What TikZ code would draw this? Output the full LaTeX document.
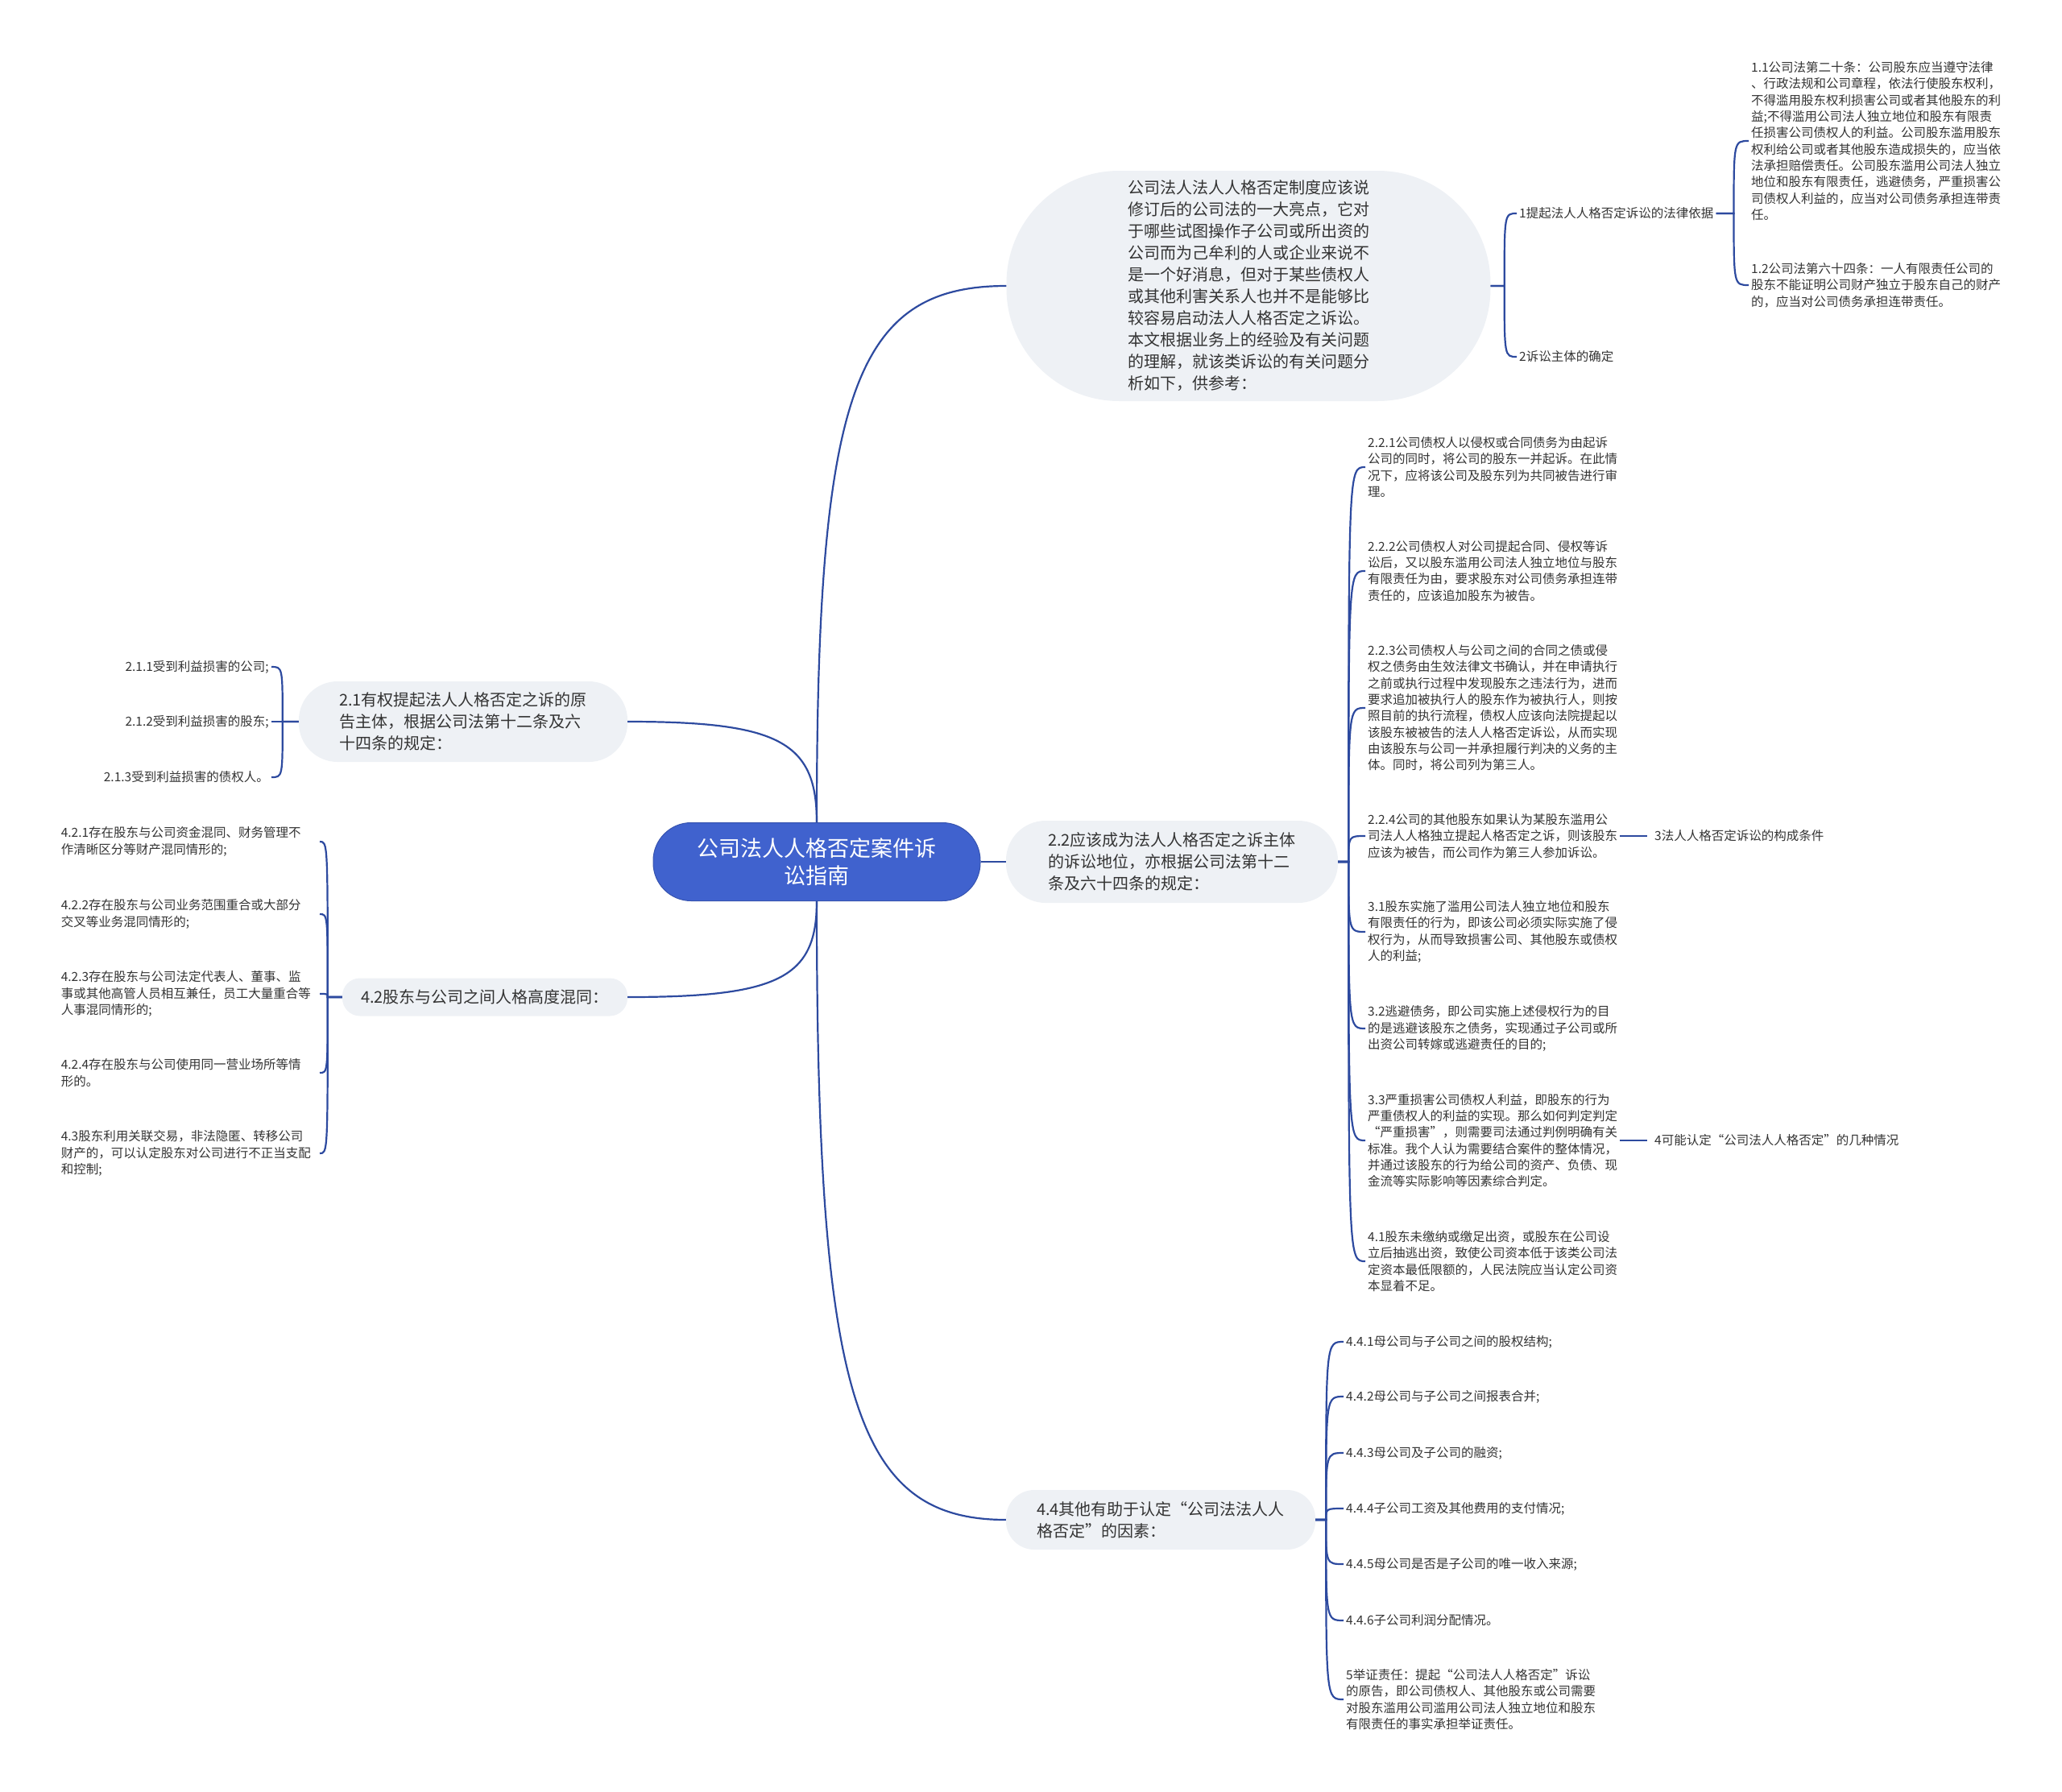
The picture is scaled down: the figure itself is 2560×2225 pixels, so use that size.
\documentclass[tikz,border=0pt]{standalone}
\usepackage{fontspec}
\setmainfont{Noto Sans CJK SC}
\usetikzlibrary{calc}

\definecolor{rootblue}{HTML}{4062CE}
\definecolor{topicgray}{HTML}{EEF1F5}
\definecolor{linkblue}{HTML}{2D4A9F}
\definecolor{textgray}{HTML}{333333}

\tikzset{
	rootnode/.style={fill=rootblue, draw=rootblue!85!black, line width=1pt, text=white, align=center,
		inner sep=0pt, font=\fontsize{27}{34}\selectfont},
	topic/.style={fill=topicgray, text=textgray, align=left, inner sep=0pt,
		font=\fontsize{20}{27}\selectfont},
	leaf/.style={text=textgray, align=left, inner sep=3pt,
		font=\fontsize{15.5}{20.3}\selectfont},
	link/.style={draw=linkblue, line width=2.2pt},
	branch/.style={to path={.. controls ($(\tikztostart)!0.8!(\tikztostart |- \tikztotarget)$)
			and ($(\tikztotarget)!0.8!(\tikztostart |- \tikztotarget)$) .. (\tikztotarget)}},
	bracelink/.style={to path={-- ($(\tikztostart)+(#1,0)$)
			.. controls ($(\tikztostart |- \tikztotarget)+(#1,0)$) .. (\tikztotarget)}},
}

\begin{document}
\begin{tikzpicture}[x=1pt, y=-1pt]
	\useasboundingbox (0,0) rectangle (2560,2225);
	
	\node[rootnode, minimum width=406, minimum height=97, rounded corners=47] (root) at (1014,1070)
		{公司法人人格否定案件诉\\讼指南};
	
	\node[topic, minimum width=601, minimum height=286, rounded corners=140] (intro) at (1550,355)
		{公司法人法人人格否定制度应该说\\修订后的公司法的一大亮点，它对\\于哪些试图操作子公司或所出资的\\公司而为己牟利的人或企业来说不\\是一个好消息，但对于某些债权人\\或其他利害关系人也并不是能够比\\较容易启动法人人格否定之诉讼。\\本文根据业务上的经验及有关问题\\的理解，就该类诉讼的有关问题分\\析如下，供参考：};
	\node[topic, minimum width=408, minimum height=100, rounded corners=48] (n21) at (575,896)
		{2.1有权提起法人人格否定之诉的原\\告主体，根据公司法第十二条及六\\十四条的规定：};
	\node[topic, minimum width=412, minimum height=102, rounded corners=49] (n22) at (1455,1070)
		{2.2应该成为法人人格否定之诉主体\\的诉讼地位，亦根据公司法第十二\\条及六十四条的规定：};
	\node[topic, minimum width=354, minimum height=47, rounded corners=22] (n42) at (602,1238)
		{4.2股东与公司之间人格高度混同：};
	\node[topic, minimum width=384, minimum height=74, rounded corners=35] (n44) at (1441,1887)
		{4.4其他有助于认定“公司法法人人\\格否定”的因素：};
	
	\draw[link] (root.north) to[branch] (intro.west);
	\draw[link] (root.north) to[branch] (n21.east);
	\draw[link] (root.east) -- (n22.west);
	\draw[link] (root.south) to[branch] (n42.east);
	\draw[link] (root.south) to[branch] (n44.west);
	
	\node[leaf, anchor=west] (c1) at (1883,265) {1提起法人人格否定诉讼的法律依据};
	\node[leaf, anchor=west] (c2) at (1883,443) {2诉讼主体的确定};
	\node[leaf, anchor=west] (c11) at (2171,175)
		{1.1公司法第二十条：公司股东应当遵守法律\\、行政法规和公司章程，依法行使股东权利，\\不得滥用股东权利损害公司或者其他股东的利\\益;不得滥用公司法人独立地位和股东有限责\\任损害公司债权人的利益。公司股东滥用股东\\权利给公司或者其他股东造成损失的，应当依\\法承担赔偿责任。公司股东滥用公司法人独立\\地位和股东有限责任，逃避债务，严重损害公\\司债权人利益的，应当对公司债务承担连带责\\任。};
	\node[leaf, anchor=west] (c12) at (2171,354)
		{1.2公司法第六十四条：一人有限责任公司的\\股东不能证明公司财产独立于股东自己的财产\\的，应当对公司债务承担连带责任。};
	\draw[link] (intro.east) to[bracelink=17] (c1.west);
	\draw[link] (intro.east) to[bracelink=17] (c2.west);
	\draw[link] (c1.east) to[bracelink=22] (c11.west);
	\draw[link] (c1.east) to[bracelink=22] (c12.west);
	
	\node[leaf, anchor=east, align=right] (l211) at (337,828) {2.1.1受到利益损害的公司;};
	\node[leaf, anchor=east, align=right] (l212) at (337,896) {2.1.2受到利益损害的股东;};
	\node[leaf, anchor=east, align=right] (l213) at (337,965) {2.1.3受到利益损害的债权人。};
	\draw[link] (n21.west) to[bracelink=-20] (l211.east);
	\draw[link] (n21.west) to[bracelink=-20] (l212.east);
	\draw[link] (n21.west) to[bracelink=-20] (l213.east);
	
	\node[leaf, anchor=west] (l221) at (1695,580)
		{2.2.1公司债权人以侵权或合同债务为由起诉\\公司的同时，将公司的股东一并起诉。在此情\\况下，应将该公司及股东列为共同被告进行审\\理。};
	\node[leaf, anchor=west] (l222) at (1695,709)
		{2.2.2公司债权人对公司提起合同、侵权等诉\\讼后，又以股东滥用公司法人独立地位与股东\\有限责任为由，要求股东对公司债务承担连带\\责任的，应该追加股东为被告。};
	\node[leaf, anchor=west] (l223) at (1695,879)
		{2.2.3公司债权人与公司之间的合同之债或侵\\权之债务由生效法律文书确认，并在申请执行\\之前或执行过程中发现股东之违法行为，进而\\要求追加被执行人的股东作为被执行人，则按\\照目前的执行流程，债权人应该向法院提起以\\该股东被被告的法人人格否定诉讼，从而实现\\由该股东与公司一并承担履行判决的义务的主\\体。同时，将公司列为第三人。};
	\node[leaf, anchor=west] (l224) at (1695,1038)
		{2.2.4公司的其他股东如果认为某股东滥用公\\司法人人格独立提起人格否定之诉，则该股东\\应该为被告，而公司作为第三人参加诉讼。};
	\node[leaf, anchor=west] (l31) at (1695,1157)
		{3.1股东实施了滥用公司法人独立地位和股东\\有限责任的行为，即该公司必须实际实施了侵\\权行为，从而导致损害公司、其他股东或债权\\人的利益;};
	\node[leaf, anchor=west] (l32) at (1695,1277)
		{3.2逃避债务，即公司实施上述侵权行为的目\\的是逃避该股东之债务，实现通过子公司或所\\出资公司转嫁或逃避责任的目的;};
	\node[leaf, anchor=west] (l33) at (1695,1416)
		{3.3严重损害公司债权人利益，即股东的行为\\严重债权人的利益的实现。那么如何判定判定\\“严重损害”，则需要司法通过判例明确有关\\标准。我个人认为需要结合案件的整体情况，\\并通过该股东的行为给公司的资产、负债、现\\金流等实际影响等因素综合判定。};
	\node[leaf, anchor=west] (l41) at (1695,1566)
		{4.1股东未缴纳或缴足出资，或股东在公司设\\立后抽逃出资，致使公司资本低于该类公司法\\定资本最低限额的，人民法院应当认定公司资\\本显着不足。};
	\draw[link] (n22.east) to[bracelink=13] (l221.west);
	\draw[link] (n22.east) to[bracelink=13] (l222.west);
	\draw[link] (n22.east) to[bracelink=13] (l223.west);
	\draw[link] (n22.east) to[bracelink=13] (l224.west);
	\draw[link] (n22.east) to[bracelink=13] (l31.west);
	\draw[link] (n22.east) to[bracelink=13] (l32.west);
	\draw[link] (n22.east) to[bracelink=13] (l33.west);
	\draw[link] (n22.east) to[bracelink=13] (l41.west);
	
	\node[leaf, anchor=west] (c3) at (2051,1038) {3法人人格否定诉讼的构成条件};
	\node[leaf, anchor=west] (c4) at (2051,1416) {4可能认定“公司法人人格否定”的几种情况};
	\draw[link] (l224.east) -- ([xshift=-6]c3.west);
	\draw[link] (l33.east) -- ([xshift=-6]c4.west);
	
	\node[leaf, anchor=east, text width=318] (l421) at (397,1045)
		{4.2.1存在股东与公司资金混同、财务管理不\\作清晰区分等财产混同情形的;};
	\node[leaf, anchor=east, text width=318] (l422) at (397,1135)
		{4.2.2存在股东与公司业务范围重合或大部分\\交叉等业务混同情形的;};
	\node[leaf, anchor=east, text width=318] (l423) at (397,1234)
		{4.2.3存在股东与公司法定代表人、董事、监\\事或其他高管人员相互兼任，员工大量重合等\\人事混同情形的;};
	\node[leaf, anchor=east, text width=318] (l424) at (397,1332)
		{4.2.4存在股东与公司使用同一营业场所等情\\形的。};
	\node[leaf, anchor=east, text width=318] (l43) at (397,1432)
		{4.3股东利用关联交易，非法隐匿、转移公司\\财产的，可以认定股东对公司进行不正当支配\\和控制;};
	\draw[link] (n42.west) to[bracelink=-18] (l421.east);
	\draw[link] (n42.west) to[bracelink=-18] (l422.east);
	\draw[link] (n42.west) to[bracelink=-18] (l423.east);
	\draw[link] (n42.west) to[bracelink=-18] (l424.east);
	\draw[link] (n42.west) to[bracelink=-18] (l43.east);
	
	\node[leaf, anchor=west] (l441) at (1668,1666) {4.4.1母公司与子公司之间的股权结构;};
	\node[leaf, anchor=west] (l442) at (1668,1734) {4.4.2母公司与子公司之间报表合并;};
	\node[leaf, anchor=west] (l443) at (1668,1804) {4.4.3母公司及子公司的融资;};
	\node[leaf, anchor=west] (l444) at (1668,1873) {4.4.4子公司工资及其他费用的支付情况;};
	\node[leaf, anchor=west] (l445) at (1668,1942) {4.4.5母公司是否是子公司的唯一收入来源;};
	\node[leaf, anchor=west] (l446) at (1668,2012) {4.4.6子公司利润分配情况。};
	\node[leaf, anchor=west] (l5) at (1668,2110)
		{5举证责任：提起“公司法人人格否定”诉讼\\的原告，即公司债权人、其他股东或公司需要\\对股东滥用公司滥用公司法人独立地位和股东\\有限责任的事实承担举证责任。};
	\draw[link] (n44.east) to[bracelink=13] (l441.west);
	\draw[link] (n44.east) to[bracelink=13] (l442.west);
	\draw[link] (n44.east) to[bracelink=13] (l443.west);
	\draw[link] (n44.east) to[bracelink=13] (l444.west);
	\draw[link] (n44.east) to[bracelink=13] (l445.west);
	\draw[link] (n44.east) to[bracelink=13] (l446.west);
	\draw[link] (n44.east) to[bracelink=13] (l5.west);
	
\end{tikzpicture}
\end{document}
